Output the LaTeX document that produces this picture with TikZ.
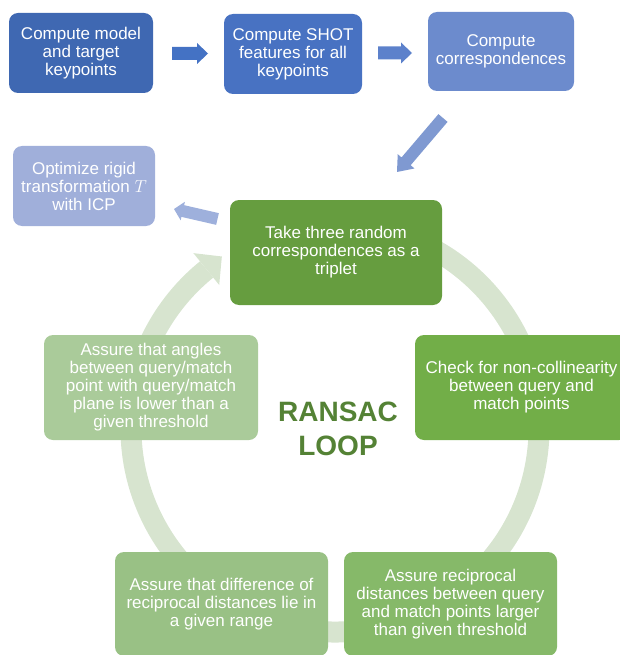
\documentclass[tikz,border=0pt]{standalone}
\usepackage{fontspec}
\setmainfont{Liberation Sans}
\usetikzlibrary{calc}
\definecolor{cB1}{RGB}{63,104,178}
\definecolor{cB2}{RGB}{72,114,194}
\definecolor{cB3}{RGB}{108,139,205}
\definecolor{cOpt}{RGB}{160,175,218}
\definecolor{cA1}{RGB}{68,114,196}
\definecolor{cA2}{RGB}{92,129,203}
\definecolor{cA3}{RGB}{127,153,209}
\definecolor{cA4}{RGB}{158,176,220}
\definecolor{cTake}{RGB}{102,157,63}
\definecolor{cCheck}{RGB}{114,174,72}
\definecolor{cRecip}{RGB}{134,185,105}
\definecolor{cDiff}{RGB}{153,193,133}
\definecolor{cAng}{RGB}{170,203,154}
\definecolor{cRing}{RGB}{215,228,207}
\definecolor{cTitle}{RGB}{84,130,53}
\newcommand\blockarrow[6]{%
  \fill[#6] let \p1=(#1), \p2=(#2), \n1={atan2(\y2-\y1,\x2-\x1)}, \n2={veclen(\x2-\x1,\y2-\y1)-#5} in
    ($(\p1)+(\n1+90:#3)$) -- ($(\p1)+(\n1:\n2)+(\n1+90:#3)$) -- ($(\p1)+(\n1:\n2)+(\n1+90:#4)$) -- (\p2)
    -- ($(\p1)+(\n1:\n2)+(\n1-90:#4)$) -- ($(\p1)+(\n1:\n2)+(\n1-90:#3)$) -- ($(\p1)+(\n1-90:#3)$) -- cycle;}
\tikzset{
  box/.style={rounded corners=9, inner sep=0pt, align=center, text=white,
    font=\fontsize{17}{18}\selectfont},
  ring/.style={draw=cRing, line width=21},
}
\begin{document}
\begin{tikzpicture}[x=1pt,y=1pt]
\useasboundingbox (0,0) rectangle (619,-655);
% ring
\coordinate (C) at (335,-428);
\draw[ring] ($(C)+(80:204)$) arc[start angle=80, end angle=-231, radius=204];
\fill[cRing] ($(C)+(129:225)$) -- ($(C)+(129:184)$) -- ($(C)+(129:204.5)+(39:20)$) -- cycle;
% top row
\node[box, fill=cB1, minimum width=144, minimum height=80] (b1) at (81,-53) {Compute model\\and target\\keypoints};
\node[box, fill=cB2, minimum width=138, minimum height=80] (b2) at (293,-54) {Compute SHOT\\features for all\\keypoints};
\node[box, fill=cB3, minimum width=146, minimum height=79] (b3) at (501,-51.5) {Compute\\correspondences};
\node[box, fill=cOpt, minimum width=142, minimum height=80] (opt) at (84,-186) {Optimize rigid\\transformation $T$\\with ICP};
% cycle boxes
\node[box, fill=cTake, minimum width=212, minimum height=105] (take) at (336,-252.5) {Take three random\\correspondences as a\\triplet};
\node[box, fill=cCheck, minimum width=213, minimum height=105] (check) at (521.5,-387.5) {Check for non-collinearity\\between query and\\match points};
\node[box, fill=cRecip, minimum width=213, minimum height=104] (recip) at (450.5,-604) {Assure reciprocal\\distances between query\\and match points larger\\than given threshold};
\node[box, fill=cDiff, minimum width=213, minimum height=104] (diff) at (221.5,-604) {Assure that difference of\\reciprocal distances lie in\\a given range};
\node[box, fill=cAng, minimum width=214, minimum height=105] (ang) at (151,-387.5) {Assure that angles\\between query/match\\point with query/match\\plane is lower than a\\given threshold};
\node[font=\fontsize{28}{34}\selectfont\bfseries, text=cTitle, align=center, inner sep=0pt] (title) at (338,-429) {RANSAC\\LOOP};
% block arrows
\coordinate (a1s) at (172,-53.5); \coordinate (a1e) at (208,-53.5);
\coordinate (a2s) at (378,-53); \coordinate (a2e) at (412,-53);
\coordinate (a3s) at (443,-118); \coordinate (a3e) at (397,-172);
\coordinate (a4s) at (217.5,-219); \coordinate (a4e) at (174,-209);
\blockarrow{a1s}{a1e}{6.5}{10.5}{11}{cA1}
\blockarrow{a2s}{a2e}{6.5}{10.5}{11}{cA2}
\blockarrow{a3s}{a3e}{6}{11}{14}{cA3}
\blockarrow{a4s}{a4e}{6}{9.5}{9}{cA4}
\end{tikzpicture}
\end{document}
